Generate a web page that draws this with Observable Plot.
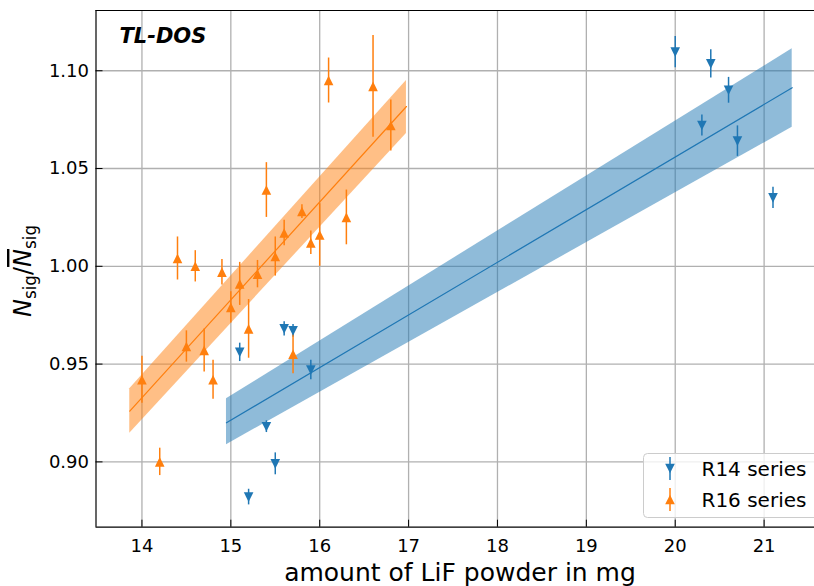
<!DOCTYPE html>
<html>
<head>
<meta charset="utf-8">
<script src="https://cdn.jsdelivr.net/npm/d3@7"></script>
<script src="https://cdn.jsdelivr.net/npm/@observablehq/plot@0.6"></script>
<style>
  body { margin: 0; background: #fff; }
  #chart svg { display: block; font-family: "DejaVu Sans", sans-serif; }
</style>
</head>
<body>
<div id="chart"></div>
<script>
// ---- data ----
const r16X = [14.0, 14.2, 14.4, 14.5, 14.6, 14.7, 14.8, 14.9, 15.0, 15.1, 15.2, 15.3, 15.4, 15.5, 15.6, 15.7, 15.8, 15.9, 16.0, 16.1, 16.3, 16.6, 16.8];
const r16Y = [0.942, 0.900, 1.004, 0.959, 1.000, 0.957, 0.942, 0.997, 0.979, 0.991, 0.968, 0.996, 1.039, 1.005, 1.017, 0.955, 1.028, 1.012, 1.016, 1.095, 1.025, 1.092, 1.072];
const r16Err = [0.012, 0.007, 0.011, 0.008, 0.008, 0.011, 0.010, 0.0065, 0.008, 0.011, 0.015, 0.007, 0.014, 0.010, 0.0065, 0.010, 0.0035, 0.006, 0.016, 0.0115, 0.014, 0.026, 0.013];

const r14X = [15.1, 15.2, 15.4, 15.5, 15.6, 15.7, 15.9, 20.0, 20.3, 20.4, 20.6, 20.7, 21.1];
const r14Y = [0.956, 0.882, 0.918, 0.899, 0.968, 0.967, 0.947, 1.1095, 1.072, 1.1035, 1.090, 1.064, 1.035];
const r14Err = [0.0047, 0.004, 0.003, 0.0056, 0.0036, 0.0033, 0.005, 0.008, 0.0054, 0.0072, 0.0066, 0.0078, 0.0054];

// linear fits with confidence bands (endpoints)
const r16FitX = [13.863, 16.976];
const r16FitY = [0.926, 1.0817];
const r16FitLo = [0.9147, 1.0679];
const r16FitHi = [0.9374, 1.0950];

const r14FitX = [14.951, 21.316];
const r14FitY = [0.920, 1.0913];
const r14FitLo = [0.9088, 1.0711];
const r14FitHi = [0.9323, 1.1112];

const xTicks = [14, 15, 16, 17, 18, 19, 20, 21];
const yTicks = [0.90, 0.95, 1.00, 1.05, 1.10];
const xDomain = [13.483, 21.567];
const yDomain = [0.8666, 1.1308];

const seriesNames = ["R14 series", "R16 series"];
const colors = { r14: "#1f77b4", r16: "#ff7f0e" };

// ---- build tables ----
const r16 = r16X.map((x, i) => ({ x, y: r16Y[i], e: r16Err[i] }));
const r14 = r14X.map((x, i) => ({ x, y: r14Y[i], e: r14Err[i] }));
const fit16 = r16FitX.map((x, i) => ({ x, y: r16FitY[i], lo: r16FitLo[i], hi: r16FitHi[i] }));
const fit14 = r14FitX.map((x, i) => ({ x, y: r14FitY[i], lo: r14FitLo[i], hi: r14FitHi[i] }));

// matplotlib-like triangles
const triUp = { draw(ctx, size) { const r = Math.sqrt(size / Math.PI); ctx.moveTo(0, -r); ctx.lineTo(r, r); ctx.lineTo(-r, r); ctx.closePath(); } };
const triDown = { draw(ctx, size) { const r = Math.sqrt(size / Math.PI); ctx.moveTo(0, r); ctx.lineTo(r, -r); ctx.lineTo(-r, -r); ctx.closePath(); } };

const gridColor = "#b0b0b0";

const plot = Plot.plot({
  width: 814,
  height: 586,
  marginLeft: 95.5,
  marginRight: 0,
  marginTop: 10,
  marginBottom: 59.3,
  style: { fontFamily: "DejaVu Sans, sans-serif", background: "#fff" },
  x: { domain: xDomain },
  y: { domain: yDomain },
  marks: [
    // grid
    Plot.ruleX(xTicks, { x: d => d, stroke: gridColor, strokeWidth: 1.3 }),
    Plot.ruleY(yTicks, { y: d => d, stroke: gridColor, strokeWidth: 1.3 }),
    // spines
    Plot.ruleY([yDomain[0]], { y: d => d, stroke: "#000", strokeWidth: 1.2 }),
    Plot.ruleY([yDomain[1]], { y: d => d, stroke: "#000", strokeWidth: 1.2 }),
    Plot.ruleX([xDomain[0]], { x: d => d, stroke: "#000", strokeWidth: 1.2 }),
    // axes: labels
    Plot.axisX({ ticks: xTicks, tickSize: 0, tickPadding: 12.5, fontSize: 18, label: null, tickFormat: d => String(d), fill: "#000" }),
    Plot.axisY({ ticks: yTicks, tickSize: 0, tickPadding: 7, fontSize: 18, label: null, tickFormat: d => d.toFixed(2), fill: "#000" }),
    // axes: inward ticks
    Plot.axisX({ ticks: xTicks, tickSize: 7, dy: -7, tickFormat: () => "", label: null, stroke: "#000" }),
    Plot.axisY({ ticks: yTicks, tickSize: 7, dx: 7, tickFormat: () => "", label: null, stroke: "#000" }),
    // fit bands
    Plot.areaY(fit16, { x: "x", y1: "lo", y2: "hi", fill: colors.r16, fillOpacity: 0.5 }),
    Plot.areaY(fit14, { x: "x", y1: "lo", y2: "hi", fill: colors.r14, fillOpacity: 0.5 }),
    Plot.line(fit16, { x: "x", y: "y", stroke: colors.r16, strokeWidth: 1.2 }),
    Plot.line(fit14, { x: "x", y: "y", stroke: colors.r14, strokeWidth: 1.2 }),
    // error bars
    Plot.ruleX(r14, { x: "x", y1: d => d.y - d.e, y2: d => d.y + d.e, stroke: colors.r14, strokeWidth: 1.5 }),
    Plot.ruleX(r16, { x: "x", y1: d => d.y - d.e, y2: d => d.y + d.e, stroke: colors.r16, strokeWidth: 1.5 }),
    // markers
    Plot.dot(r14, { x: "x", y: "y", symbol: triDown, r: 4.8, fill: colors.r14, stroke: "none" }),
    Plot.dot(r16, { x: "x", y: "y", symbol: triUp, r: 4.8, fill: colors.r16, stroke: "none" })
  ]
});

document.getElementById("chart").appendChild(plot);

const svg = d3.select(plot);
svg.attr("font-family", "DejaVu Sans, sans-serif");

// panel title
svg.append("text")
  .attr("x", 119.5).attr("y", 43.3)
  .attr("text-anchor", "start")
  .attr("font-size", 21).attr("font-weight", "bold").attr("font-style", "italic")
  .attr("fill", "#000")
  .text("TL-DOS");

// x label
svg.append("text")
  .attr("x", 460).attr("y", 581)
  .attr("text-anchor", "middle").attr("font-size", 25).attr("fill", "#000")
  .text("amount of LiF powder in mg");

// y label N_sig / overline N_sig
const yl = svg.append("text")
  .attr("transform", "translate(31,271) rotate(-90)")
  .attr("text-anchor", "middle").attr("font-size", 24).attr("fill", "#000");
yl.append("tspan").attr("font-style", "italic").text("N");
yl.append("tspan").attr("font-size", 16.8).attr("dy", 5).text("sig");
yl.append("tspan").attr("dy", -5).text("/");
yl.append("tspan").attr("font-style", "italic").style("text-decoration", "overline").text("N");
yl.append("tspan").attr("font-size", 16.8).attr("dy", 5).text("sig");

// legend
const lg = svg.append("g");
lg.append("rect")
  .attr("x", 643.5).attr("y", 453.5).attr("width", 190).attr("height", 64)
  .attr("rx", 4).attr("fill", "#fff").attr("fill-opacity", 0.8)
  .attr("stroke", "#cccccc").attr("stroke-width", 1);
const legItems = [
  { name: seriesNames[0], color: colors.r14, sym: d3.line()([[0, 4.8], [4.8, -4.8], [-4.8, -4.8]]) + "Z", cy: 468.5 },
  { name: seriesNames[1], color: colors.r16, sym: d3.line()([[0, -4.8], [4.8, 4.8], [-4.8, 4.8]]) + "Z", cy: 499.5 }
];
legItems.forEach(it => {
  lg.append("line").attr("x1", 670).attr("x2", 670).attr("y1", it.cy - 11.5).attr("y2", it.cy + 11.5)
    .attr("stroke", it.color).attr("stroke-width", 1.5);
  lg.append("path").attr("transform", `translate(670,${it.cy})`).attr("d", it.sym).attr("fill", it.color);
  lg.append("text").attr("x", 701.5).attr("y", it.cy).attr("dy", "0.36em")
    .attr("text-anchor", "start")
    .attr("font-size", 20).attr("fill", "#000").text(it.name);
});
</script>
</body>
</html>
